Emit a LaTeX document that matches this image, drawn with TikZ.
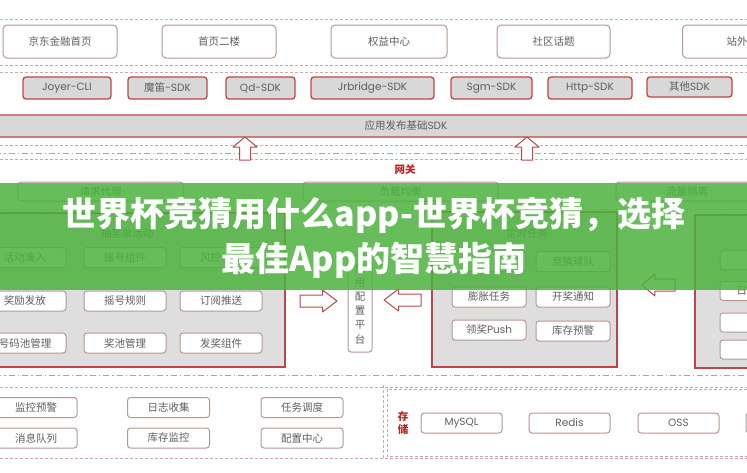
\documentclass[tikz,border=0pt]{standalone}
\usepackage{fontspec}
\setmainfont{Noto Sans CJK SC}
\newfontfamily\lat{Poppins}
\usepackage{xcolor}
\definecolor{jdtext}{RGB}{95,95,95}
\definecolor{jdline}{RGB}{205,170,170}
\definecolor{jdedge}{RGB}{185,150,150}
\definecolor{jdred}{RGB}{190,70,70}
\definecolor{jdgray}{RGB}{216,216,216}
\definecolor{jdpanel}{RGB}{222,222,222}
\definecolor{jdmark}{RGB}{185,35,35}
\definecolor{jdgreen}{RGB}{76,178,62}
\usetikzlibrary{arrows.meta}
\tikzset{
  pics/uparrow/.style={code={
    \draw[draw=jdred,fill=white,line width=1pt,line join=round]
      (-5.5,11.5) -- (-5.5,-1.5) -- (-12,-1.5) -- (0,-11.5) -- (12,-1.5) -- (5.5,-1.5) -- (5.5,11.5) -- cycle;}},
  pics/sidearrow/.style={code={
    \draw[draw=jdred,fill=white,line width=1pt,line join=round]
      (-18.5,-6) -- (4,-6) -- (4,-11) -- (18.5,0) -- (4,11) -- (4,6) -- (-18.5,6) -- cycle;}}
}

\begin{document}
\begin{tikzpicture}[x=1pt,y=-1pt,font=\fontsize{10.5}{12}\selectfont,text=jdtext,
  sep/.style={draw=jdline,dash pattern=on 3pt off 2pt,line width=0.7pt},
  sepdot/.style={draw=jdred!60,dash pattern=on 6pt off 3pt on 1.5pt off 3pt,line width=1pt},
  page/.style={draw=jdedge,fill=white,rounded corners=4pt,line width=1pt,minimum height=33pt,inner sep=0pt},
  sdkbox/.style={draw=jdred,fill=jdgray,rounded corners=3pt,line width=1.3pt,minimum height=22pt,inner sep=0pt},
  unitbox/.style={draw=jdedge,fill=white,rounded corners=3pt,line width=1pt,inner sep=0pt,minimum height=20pt},
  panel/.style={draw=jdred,fill=jdpanel,line width=1.2pt,inner sep=0pt},
  redlabel/.style={text=jdmark,font=\fontsize{10.5}{13}\selectfont\bfseries,align=center}]
  \useasboundingbox (0,0) rectangle (747,472);
  \clip (0,0) rectangle (747,472);
  \fill[white] (0,0) rectangle (747,472);

  \foreach \y in {19,65,72,145,159,209,387,458}
    \draw[sep] (-5,\y) -- (752,\y);
  \foreach \y in {153,375}
    \draw[sepdot] (-5,\y) -- (752,\y);

  \foreach \i/\x/\w/\t in {1/60/114/京东金融首页, 2/219/114/首页二楼, 3/389/116/权益中心, 4/553.5/113/社区话题}
    \node[page,minimum width=\w pt] (top\i) at (\x,41.5) {\t};
  \node[page,minimum width=114pt,anchor=west] (top5) at (682,41.5) {};
  \node[anchor=west] (top5text) at (723,41.5) {站外};

  \foreach \i/\x/\w/\t in {1/67/88/{\lat Joyer-CLI}, 2/167.5/79/魔笛{\lat -SDK}, 3/260.5/69/{\lat Qd-SDK},
      4/372.5/123/{\lat Jrbridge-SDK}, 5/491.5/81/{\lat Sgm-SDK}, 6/590/84/{\lat Http-SDK}}
    \node[sdkbox,minimum width=\w pt] (sdk\i) at (\x,88) {\t};
  \node[sdkbox,minimum width=85pt,minimum height=20pt] (sdk7) at (689.5,87) {其他{\lat SDK}};

  \node[sdkbox,minimum width=762pt] (base) at (373.5,126) {};
  \node (basetext) at (406,126) {应用发布基础{\lat SDK}};
  \pic (upL) at (245,148.5) {uparrow};
  \pic (upR) at (527,148.5) {uparrow};

  \node[redlabel] (gw) at (405,170) {网关};
  \foreach \i/\x/\w/\t in {1/100.5/165/请求代理, 2/400.5/195/负载均衡, 3/687/142/流量隔离}
    \node[unitbox,minimum width=\w pt,minimum height=19pt] (gw\i) at (\x,191.5) {\t};

  \node[panel,minimum width=305pt,minimum height=154pt] (act) at (132.5,290) {};
  \node (acttitle) at (127,233) {抽奖单活动};
  \foreach \n/\x/\y/\t in {a1/25/257.5/活动准入, a2/125/257.5/摇号组件, a3/221/257.5/风控组件,
      b1/25/301/奖励发放, b2/125/301/摇号规则, b3/221/301/订阅推送,
      c1/25/343/号码池管理, c2/125/343/奖池管理, c3/221/343/发奖组件}
    \node[unitbox,minimum width=82pt] (act\n) at (\x,\y) {\t};

  \node[panel,minimum width=185pt,minimum height=155pt] (task) at (524.5,289.5) {};
  \node (tasktitle) at (527,233) {定时任务};
  \foreach \n/\x/\y/\t in {a1/489/261.5/{}, a2/573/261.5/竞猜球队, b1/489/297/膨胀任务,
      b2/573/297/开奖通知, c1/489/330/领奖{\lat Push}, c2/573/331/库存预警}
    \node[unitbox,minimum width=74pt] (task\n) at (\x,\y) {\t};

  \node[panel,minimum width=75pt,minimum height=153pt] (side) at (732.5,291.5) {};
  \foreach \n/\y in {a/260,b/291,c/322.5,d/349.5}
    \node[unitbox,minimum width=80pt,minimum height=19pt] (side\n) at (760,\y) {};
  \node[anchor=west] (sidebtext) at (733,291) {日};

  \node[unitbox,minimum width=24pt,minimum height=97pt,align=center,
    font=\fontsize{10.5}{14.2}\selectfont] (cfg) at (360,303.5) {应\\用\\配\\置\\平\\台};
  \pic (toCfgL) at (318.5,301) {sidearrow};
  \pic[xscale=-1] (toCfgR) at (402.5,300) {sidearrow};
  \pic[xscale=-0.9] (toTask) at (658.5,285) {sidearrow};

  \foreach \i/\x/\y/\t in {1/36/407.5/监控预警, 2/168.5/407.5/日志收集, 3/302/407.5/任务调度,
      4/36/438/消息队列, 5/168.5/438/库存监控, 6/302/438/配置中心}
    \node[unitbox,minimum width=82pt] (infra\i) at (\x,\y) {\t};

  \draw[sep] (383,385) -- (383,459);
  \draw[sep] (387,389) rectangle (770,456);
  \node[redlabel] (store) at (403,423) {存\\储};
  \foreach \i/\x/\t in {1/461.5/{\lat MySQL}, 2/569.5/{\lat Redis}, 3/678.5/{\lat OSS}, 4/786.5/{}}
    \node[unitbox,minimum width=81pt] (store\i) at (\x,423) {\t};

  \fill[jdgreen,fill opacity=0.85] (-5,183) rectangle (752,290);
  \node[text=white,font=\fontsize{34}{40}\selectfont\bfseries] (title1) at (374,215) {世界杯竞猜用什么app-世界杯竞猜，选择};
  \node[text=white,font=\fontsize{34}{40}\selectfont\bfseries] (title2) at (374,260) {最佳App的智慧指南};
\end{tikzpicture}
\end{document}
